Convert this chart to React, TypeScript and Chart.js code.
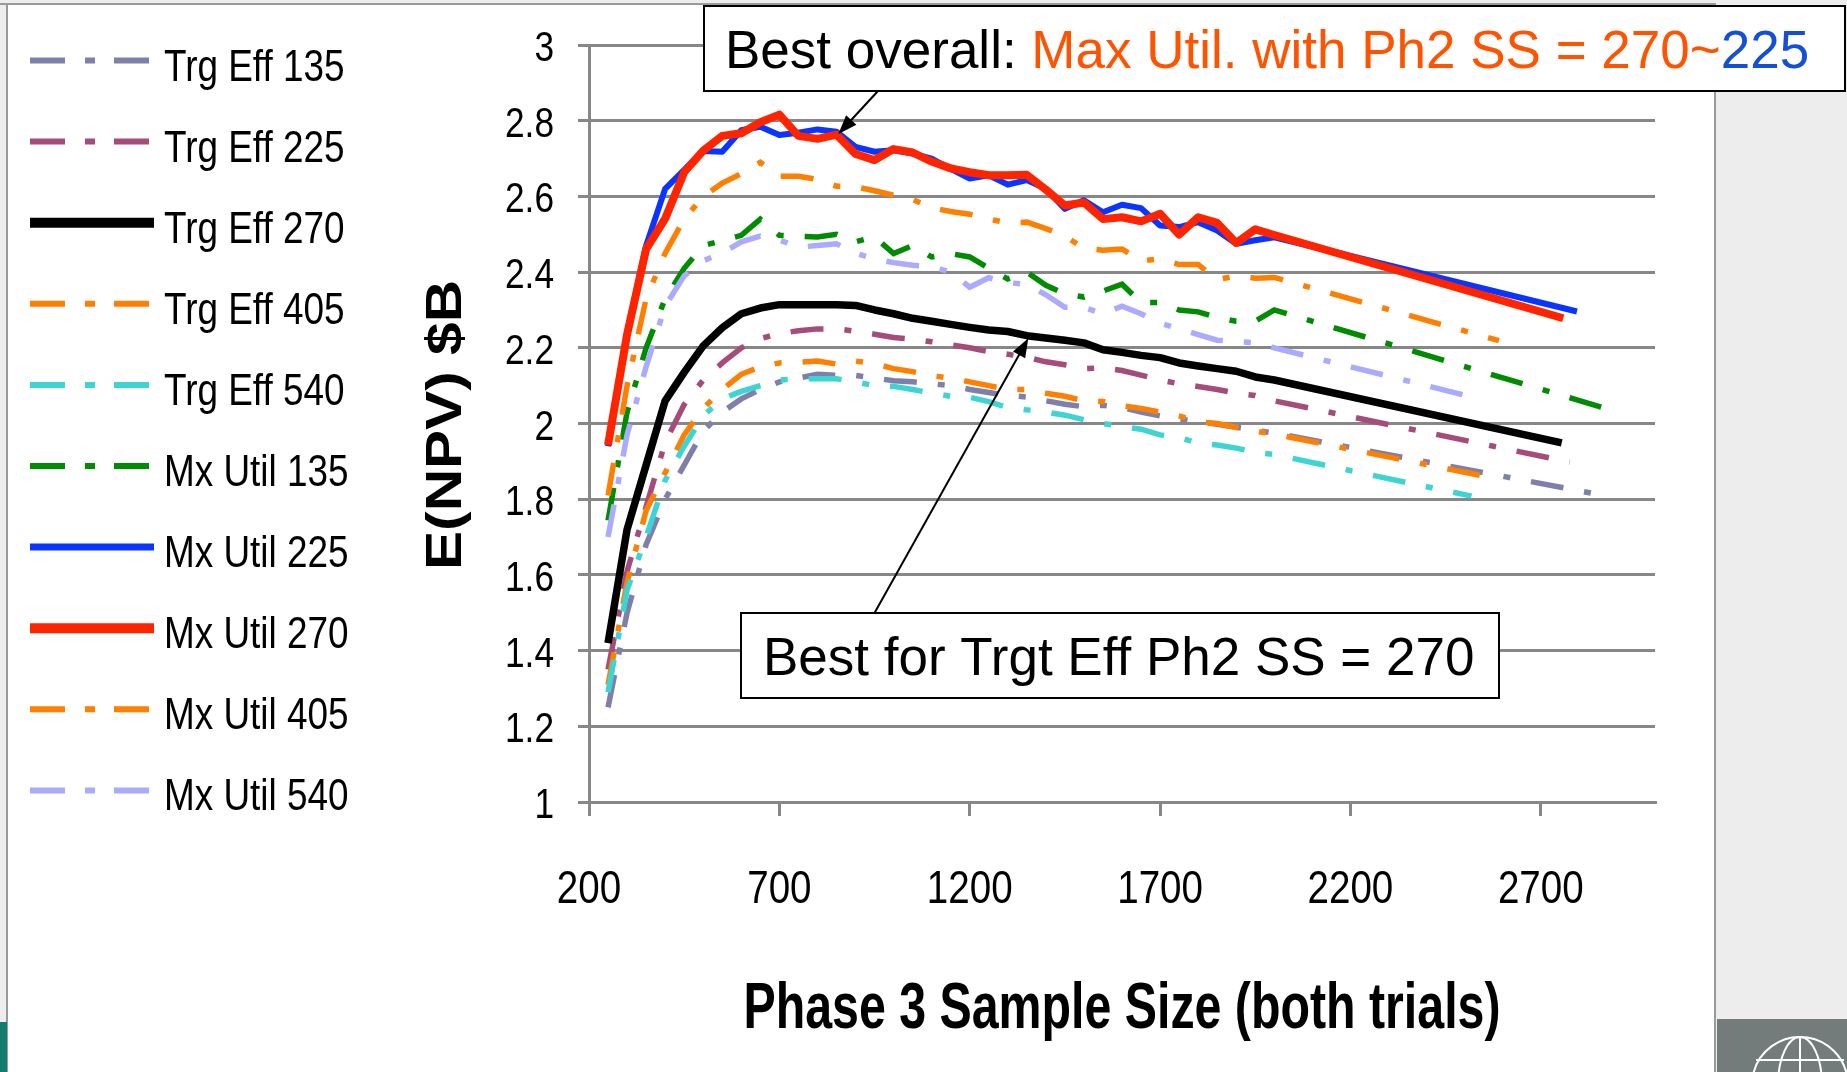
import React, { useEffect, useRef } from 'react';
import { Chart, registerables } from 'chart.js';

Chart.register(...registerables);

const W = 1847;
const H = 1072;
const ARIAL = '"Liberation Sans", Arial, sans-serif';
const GRID = '#878787';
const CONDENSE = 0.82; // Calibri-like narrow look

// Phase 3 sample size (x) for the main part of every curve
const X_MAIN = [250, 300, 350, 400, 450, 500, 550, 600, 650, 700, 750, 800, 850, 900, 950, 1000, 1050, 1100, 1150, 1200, 1250, 1300, 1350, 1400, 1450, 1500, 1550, 1600, 1650, 1700, 1750, 1800, 1850, 1900, 1950, 2000];
const X_TICKS = [200, 700, 1200, 1700, 2200, 2700];

const SERIES_NAMES = ['Trg Eff 135', 'Trg Eff 225', 'Trg Eff 270', 'Trg Eff 405', 'Trg Eff 540', 'Mx Util 135', 'Mx Util 225', 'Mx Util 270', 'Mx Util 405', 'Mx Util 540'];
const COLORS = ['#7f7fac', '#a64c7a', '#000000', '#ff7f00', '#3fd4d4', '#008c00', '#0a34ff', '#ff2400', '#ff7f00', '#aaaaff'];

const TRG_EFF_135 = [1.25, 1.50, 1.68, 1.80, 1.89, 1.98, 2.03, 2.065, 2.09, 2.11, 2.12, 2.13, 2.127, 2.127, 2.12, 2.113, 2.11, 2.105, 2.10, 2.09, 2.082, 2.074, 2.07, 2.06, 2.051, 2.044, 2.048, 2.042, 2.03, 2.02, 2.012, 2.005, 1.998, 1.99, 1.982, 1.975];
const TRG_EFF_225 = [1.35, 1.61, 1.78, 1.95, 2.05, 2.115, 2.16, 2.20, 2.224, 2.238, 2.245, 2.25, 2.25, 2.244, 2.236, 2.227, 2.223, 2.216, 2.208, 2.20, 2.19, 2.183, 2.175, 2.163, 2.155, 2.145, 2.147, 2.14, 2.128, 2.115, 2.105, 2.098, 2.09, 2.08, 2.074, 2.06];
const TRG_EFF_270 = [1.42, 1.72, 1.89, 2.06, 2.135, 2.205, 2.253, 2.29, 2.305, 2.314, 2.314, 2.314, 2.314, 2.312, 2.30, 2.29, 2.278, 2.27, 2.262, 2.254, 2.247, 2.243, 2.232, 2.226, 2.22, 2.213, 2.195, 2.188, 2.18, 2.174, 2.16, 2.152, 2.145, 2.138, 2.123, 2.115];
const TRG_EFF_405 = [1.31, 1.58, 1.77, 1.87, 1.97, 2.04, 2.09, 2.13, 2.15, 2.16, 2.162, 2.165, 2.157, 2.165, 2.158, 2.145, 2.137, 2.126, 2.12, 2.11, 2.10, 2.09, 2.09, 2.08, 2.072, 2.06, 2.058, 2.047, 2.04, 2.03, 2.02, 2.004, 2.0, 1.99, 1.98, 1.972];
const TRG_EFF_540 = [1.29, 1.56, 1.70, 1.85, 1.94, 2.02, 2.065, 2.085, 2.10, 2.115, 2.118, 2.118, 2.118, 2.11, 2.10, 2.098, 2.09, 2.08, 2.072, 2.069, 2.058, 2.042, 2.036, 2.03, 2.022, 2.01, 2.0, 1.992, 1.985, 1.97, 1.963, 1.948, 1.943, 1.935, 1.924, 1.918];
const MX_UTIL_135 = [1.744, 2.03, 2.20, 2.33, 2.41, 2.47, 2.483, 2.497, 2.54, 2.497, 2.495, 2.493, 2.50, 2.48, 2.493, 2.449, 2.47, 2.44, 2.449, 2.44, 2.41, 2.382, 2.40, 2.365, 2.343, 2.334, 2.35, 2.368, 2.32, 2.32, 2.30, 2.295, 2.28, 2.27, 2.27, 2.30];
const MX_UTIL_225 = [1.94, 2.24, 2.47, 2.62, 2.67, 2.72, 2.718, 2.775, 2.784, 2.762, 2.768, 2.777, 2.771, 2.731, 2.718, 2.722, 2.713, 2.70, 2.673, 2.647, 2.656, 2.631, 2.643, 2.62, 2.567, 2.59, 2.558, 2.578, 2.569, 2.523, 2.519, 2.532, 2.51, 2.475, 2.484, 2.492];
const MX_UTIL_270 = [1.943, 2.235, 2.461, 2.541, 2.664, 2.721, 2.76, 2.767, 2.796, 2.816, 2.76, 2.752, 2.763, 2.712, 2.696, 2.725, 2.716, 2.692, 2.674, 2.664, 2.656, 2.656, 2.657, 2.618, 2.576, 2.584, 2.54, 2.545, 2.534, 2.554, 2.499, 2.545, 2.53, 2.477, 2.513, 2.498];
const MX_UTIL_405 = [1.81, 2.10, 2.33, 2.45, 2.54, 2.60, 2.635, 2.66, 2.69, 2.653, 2.653, 2.645, 2.627, 2.625, 2.615, 2.603, 2.592, 2.57, 2.56, 2.553, 2.54, 2.53, 2.532, 2.515, 2.495, 2.463, 2.458, 2.461, 2.43, 2.435, 2.42, 2.42, 2.38, 2.39, 2.384, 2.386];
const MX_UTIL_540 = [1.70, 1.97, 2.15, 2.31, 2.39, 2.43, 2.45, 2.48, 2.495, 2.485, 2.466, 2.47, 2.475, 2.45, 2.435, 2.425, 2.418, 2.415, 2.40, 2.36, 2.385, 2.372, 2.368, 2.34, 2.307, 2.307, 2.29, 2.31, 2.29, 2.265, 2.25, 2.235, 2.22, 2.217, 2.213, 2.20];

// last point of each curve (the curves are straight after 2000)
const END_X = [2865, 2776, 2755, 2590, 2518, 2870, 2795, 2759, 2590, 2512];
const END_Y = [1.81, 1.898, 1.949, 1.853, 1.808, 2.04, 2.296, 2.278, 2.219, 2.072];

const SERIES_VALUES = [TRG_EFF_135, TRG_EFF_225, TRG_EFF_270, TRG_EFF_405, TRG_EFF_540, MX_UTIL_135, MX_UTIL_225, MX_UTIL_270, MX_UTIL_405, MX_UTIL_540];
const IS_DASHED = [true, true, false, true, true, true, false, false, true, true];
const LINE_WIDTHS = [5.5, 5.5, 7.5, 5.5, 5.5, 5.5, 6, 8, 5.5, 5.5];
const LEGEND_WIDTHS = [6, 6, 10, 6, 6, 6, 7, 10, 6, 6];

// annotation arrow tips (data coordinates)
const ARROW_TIP_X = [855, 1354];
const ARROW_TIP_Y = [2.765, 2.225];

function fmtTick(v: number): string {
  return String(Number(v.toFixed(1)));
}

function condensedText(
  ctx: CanvasRenderingContext2D,
  text: string,
  x: number,
  y: number,
  font: string,
  align: 'left' | 'right' | 'center',
  baseline: CanvasTextBaseline,
  sx: number,
) {
  ctx.save();
  ctx.font = font;
  ctx.textAlign = align;
  ctx.textBaseline = baseline;
  ctx.fillStyle = '#000';
  ctx.translate(x, y);
  ctx.scale(sx, 1);
  ctx.fillText(text, 0, 0);
  ctx.restore();
}

function drawArrow(ctx: CanvasRenderingContext2D, x1: number, y1: number, x2: number, y2: number) {
  const ang = Math.atan2(y2 - y1, x2 - x1);
  const len = 19;
  const half = 7;
  ctx.save();
  ctx.strokeStyle = '#000';
  ctx.fillStyle = '#000';
  ctx.lineWidth = 2;
  ctx.setLineDash([]);
  ctx.beginPath();
  ctx.moveTo(x1, y1);
  ctx.lineTo(x2 - Math.cos(ang) * len * 0.8, y2 - Math.sin(ang) * len * 0.8);
  ctx.stroke();
  ctx.beginPath();
  ctx.moveTo(x2, y2);
  ctx.lineTo(x2 - Math.cos(ang) * len - Math.sin(ang) * half, y2 - Math.sin(ang) * len + Math.cos(ang) * half);
  ctx.lineTo(x2 - Math.cos(ang) * len + Math.sin(ang) * half, y2 - Math.sin(ang) * len - Math.cos(ang) * half);
  ctx.closePath();
  ctx.fill();
  ctx.restore();
}

const backgroundPlugin = {
  id: 'slideBackground',
  beforeDraw(chart: any) {
    const ctx: CanvasRenderingContext2D = chart.ctx;
    ctx.save();
    ctx.fillStyle = '#ededed';
    ctx.fillRect(0, 0, W, H);
    ctx.fillStyle = '#ffffff';
    ctx.fillRect(8, 5, 1707, H - 5);
    ctx.strokeStyle = '#9a9a9a';
    ctx.lineWidth = 2;
    ctx.beginPath();
    ctx.moveTo(0, 4);
    ctx.lineTo(1716, 4);
    ctx.moveTo(7, 4);
    ctx.lineTo(7, H);
    ctx.moveTo(1715, 4);
    ctx.lineTo(1715, H);
    ctx.stroke();
    // teal corner strip
    ctx.fillStyle = '#137c70';
    ctx.fillRect(0, 1022, 7, H - 1022);
    // bottom-right logo block
    ctx.fillStyle = '#747b7b';
    ctx.fillRect(1717, 1019, W - 1717, H - 1019);
    ctx.strokeStyle = '#ffffff';
    ctx.lineWidth = 2;
    ctx.beginPath();
    ctx.arc(1800, 1085, 48, Math.PI * 1.05, Math.PI * 1.95);
    ctx.stroke();
    ctx.beginPath();
    ctx.ellipse(1800, 1085, 22, 48, 0, Math.PI, Math.PI * 2);
    ctx.stroke();
    ctx.beginPath();
    ctx.moveTo(1756, 1060);
    ctx.lineTo(1844, 1060);
    ctx.moveTo(1800, 1037);
    ctx.lineTo(1800, H);
    ctx.stroke();
    ctx.restore();
  },
};

const overlayPlugin = {
  id: 'overlay',
  afterDraw(chart: any) {
    const ctx: CanvasRenderingContext2D = chart.ctx;
    const xs = chart.scales.x;
    const ys = chart.scales.y;
    const area = chart.chartArea;
    ctx.save();

    // y tick labels
    for (const t of ys.ticks) {
      const py = ys.getPixelForValue(t.value);
      condensedText(ctx, fmtTick(t.value), 554, py + 16, `43px ${ARIAL}`, 'right', 'alphabetic', CONDENSE);
    }
    // x tick labels
    for (const t of xs.ticks) {
      const px = xs.getPixelForValue(t.value);
      condensedText(ctx, String(t.value), px, 903, `47px ${ARIAL}`, 'center', 'alphabetic', CONDENSE);
    }

    // legend
    for (let i = 0; i < SERIES_NAMES.length; i++) {
      const y = 60.5 + i * 81.1;
      ctx.beginPath();
      ctx.strokeStyle = COLORS[i];
      ctx.lineWidth = LEGEND_WIDTHS[i];
      ctx.lineCap = 'butt';
      ctx.setLineDash(IS_DASHED[i] ? [35, 20, 10, 19] : []);
      ctx.moveTo(30, y);
      ctx.lineTo(IS_DASHED[i] ? 149 : 154, y);
      ctx.stroke();
      ctx.setLineDash([]);
      condensedText(ctx, SERIES_NAMES[i], 164, y + 20, `45px ${ARIAL}`, 'left', 'alphabetic', CONDENSE);
    }

    // y axis title
    ctx.save();
    ctx.translate(461, 425);
    ctx.rotate(-Math.PI / 2);
    ctx.font = `bold 50px ${ARIAL}`;
    const yt = 'E(NPV) $B';
    const ytw = ctx.measureText(yt).width;
    ctx.scale(290 / ytw, 1);
    ctx.textAlign = 'center';
    ctx.textBaseline = 'alphabetic';
    ctx.fillStyle = '#000';
    ctx.fillText(yt, 0, 0);
    ctx.restore();

    // x axis title
    ctx.save();
    ctx.font = `bold 64px ${ARIAL}`;
    const xt = 'Phase 3 Sample Size (both trials)';
    const xtw = ctx.measureText(xt).width;
    ctx.translate((area.left + area.right) / 2, 1028);
    ctx.scale(757 / xtw, 1);
    ctx.textAlign = 'center';
    ctx.textBaseline = 'alphabetic';
    ctx.fillStyle = '#000';
    ctx.fillText(xt, 0, 0);
    ctx.restore();

    // annotation 1
    ctx.fillStyle = '#ffffff';
    ctx.fillRect(704, 6, 1141, 85);
    ctx.strokeStyle = '#000';
    ctx.lineWidth = 2;
    ctx.strokeRect(704, 6, 1141, 85);
    ctx.font = `53px ${ARIAL}`;
    ctx.textAlign = 'left';
    ctx.textBaseline = 'alphabetic';
    const parts: [string, string][] = [
      ['Best overall: ', '#000000'],
      ['Max Util. with Ph2 SS = 270~', '#ff5300'],
      ['225', '#1450d6'],
    ];
    let tx = 725;
    for (const [t, c] of parts) {
      ctx.fillStyle = c;
      ctx.fillText(t, tx, 68);
      tx += ctx.measureText(t).width;
    }
    drawArrow(ctx, 878, 91, xs.getPixelForValue(ARROW_TIP_X[0]), ys.getPixelForValue(ARROW_TIP_Y[0]));

    // annotation 2
    ctx.fillStyle = '#ffffff';
    ctx.fillRect(741, 613, 758, 85);
    ctx.strokeStyle = '#000';
    ctx.lineWidth = 2;
    ctx.strokeRect(741, 613, 758, 85);
    ctx.fillStyle = '#000';
    ctx.fillText('Best for Trgt Eff Ph2 SS = 270', 763, 675);
    drawArrow(ctx, 874.5, 613, xs.getPixelForValue(ARROW_TIP_X[1]), ys.getPixelForValue(ARROW_TIP_Y[1]));

    ctx.restore();
  },
};

export default function App() {
  const ref = useRef<HTMLCanvasElement>(null);

  useEffect(() => {
    document.body.style.margin = '0';
    document.body.style.overflow = 'hidden';
    const canvas = ref.current;
    if (!canvas) return;

    const datasets = SERIES_VALUES.map((vals, i) => ({
      label: SERIES_NAMES[i],
      data: [...X_MAIN.map((x, j) => ({ x, y: vals[j] })), { x: END_X[i], y: END_Y[i] }],
      borderColor: COLORS[i],
      backgroundColor: COLORS[i],
      borderWidth: LINE_WIDTHS[i],
      borderDash: IS_DASHED[i] ? [33, 21, 7, 21] : [],
      borderCapStyle: 'butt' as const,
      borderJoinStyle: (IS_DASHED[i] ? 'miter' : 'round') as any,
      pointRadius: 0,
      pointHoverRadius: 0,
      tension: 0,
      fill: false,
      order: 9 - i,
    }));

    const chart = new Chart(canvas, {
      type: 'line',
      data: { datasets },
      options: {
        animation: false,
        responsive: false,
        devicePixelRatio: 1,
        events: [],
        layout: { padding: { top: 45, right: 192, bottom: 0, left: 0 } },
        plugins: {
          legend: { display: false },
          tooltip: { enabled: false },
          title: { display: false },
        },
        scales: {
          x: {
            type: 'linear',
            min: 200,
            max: 3000,
            afterFit: (s: any) => {
              s.height = 270;
            },
            afterBuildTicks: (s: any) => {
              s.ticks = X_TICKS.map((v) => ({ value: v }));
            },
            grid: { drawOnChartArea: false, drawTicks: true, tickLength: 14, color: GRID, lineWidth: 3 },
            border: { display: true, color: GRID, width: 3 },
            ticks: { display: false, autoSkip: false, maxRotation: 0 },
          },
          y: {
            type: 'linear',
            min: 1,
            max: 3,
            afterFit: (s: any) => {
              s.width = 589;
            },
            grid: { color: GRID, lineWidth: 3, tickLength: 11 },
            border: { display: true, color: GRID, width: 3 },
            ticks: { display: false, stepSize: 0.2 },
          },
        },
      },
      plugins: [backgroundPlugin, overlayPlugin],
    });

    return () => {
      chart.destroy();
    };
  }, []);

  return <canvas ref={ref} width={W} height={H} style={{ display: 'block', width: W, height: H }} />;
}
